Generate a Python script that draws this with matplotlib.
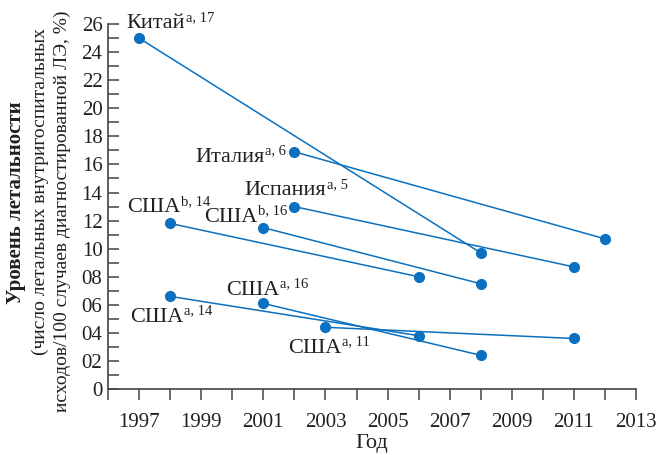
import matplotlib
matplotlib.use("Agg")
import matplotlib.pyplot as plt
from matplotlib.ticker import MultipleLocator, FixedLocator, FixedFormatter

plt.rcParams['font.family'] = ['Liberation Serif', 'DejaVu Serif']

# Data
series_names = ["Китай", "Италия", "Испания", "США", "США", "США", "США", "США"]
series_sup = ["a, 17", "a, 6", "a, 5", "b, 14", "b, 16", "a, 16", "a, 14", "a, 11"]
years = [
    [1997, 2008],
    [2002, 2012],
    [2002, 2011],
    [1998, 2006],
    [2001, 2008],
    [2001, 2008],
    [1998, 2006],
    [2003, 2011],
]
rates = [
    [25.0, 9.7],
    [16.9, 10.7],
    [13.0, 8.7],
    [11.8, 8.0],
    [11.5, 7.5],
    [6.1, 2.4],
    [6.6, 3.8],
    [4.4, 3.6],
]
label_pos = [
    (1996.6, 25.7),
    (1998.8, 16.2),
    (2000.4, 13.8),
    (1996.6, 12.6),
    (1999.1, 11.9),
    (1999.8, 6.7),
    (1996.7, 4.8),
    (2001.8, 2.6),
]
x_ticks = [1997, 1999, 2001, 2003, 2005, 2007, 2009, 2011, 2013]
y_ticks = list(range(0, 27, 2))
y_tick_labels = ["0", "02", "04", "06", "08", "10", "12", "14", "16", "18", "20", "22", "24", "26"]

color = "#0a70bf"
tcol = '#231f20'

fig = plt.figure(figsize=(6.71, 4.55), dpi=100)
ax = fig.add_axes([0.161, 0.145, 0.787, 0.802])

for xs, ys in zip(years, rates):
    ax.plot(xs, ys, color=color, lw=1.1, marker='o', ms=7, mec=color, mfc=color, zorder=3)

for name, sup, (lx, ly) in zip(series_names, series_sup, label_pos):
    t = ax.text(lx, ly, name, fontsize=16, ha='left', va='baseline', color=tcol)
    ax.annotate(sup, xy=(1, 1), xycoords=t, xytext=(0.5, 2.5), textcoords='offset points',
                fontsize=10.5, ha='left', va='top', color=tcol)

ax.set_xlim(1996, 2013)
ax.set_ylim(0, 26)
ax.spines['top'].set_visible(False)
ax.spines['right'].set_visible(False)
for s in ('left', 'bottom'):
    ax.spines[s].set_color('#444444')
    ax.spines[s].set_linewidth(1.2)

ax.xaxis.set_major_locator(FixedLocator(x_ticks))
ax.xaxis.set_minor_locator(MultipleLocator(1))
ax.yaxis.set_major_locator(FixedLocator(y_ticks))
ax.yaxis.set_major_formatter(FixedFormatter(y_tick_labels))
ax.yaxis.set_minor_locator(MultipleLocator(1))

ax.tick_params(axis='x', which='both', direction='out', length=8, width=1.1, color='#444444',
               labelsize=15, pad=9, labelcolor=tcol)
ax.tick_params(axis='y', which='both', direction='in', length=8, width=1.1, color='#444444',
               labelsize=15, pad=4, labelcolor=tcol)

ax.set_xlabel("Год", fontsize=16, color=tcol, labelpad=2)

fig.text(0.024, 0.555, "Уровень летальности", rotation=90, fontsize=15, fontweight='bold',
         ha='center', va='center', color=tcol)
fig.text(0.060, 0.58, "(число летальных внутригоспитальных", rotation=90, fontsize=14,
         ha='center', va='center', color=tcol)
fig.text(0.093, 0.535, "исходов/100 случаев диагностированной ЛЭ, %)", rotation=90, fontsize=14,
         ha='center', va='center', color=tcol)

fig.savefig("out.png", dpi=100)
